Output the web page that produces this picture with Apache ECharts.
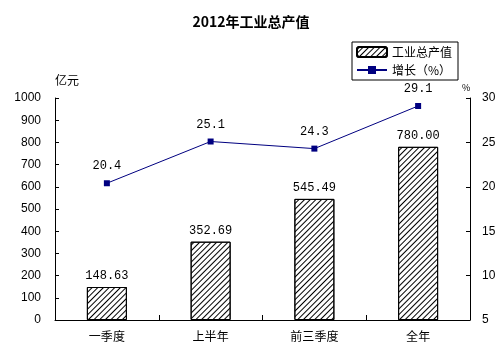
<!DOCTYPE html>
<html>
<head>
<meta charset="utf-8">
<script src="https://cdn.jsdelivr.net/npm/echarts@6/dist/echarts.min.js"></script>
<style>
  html, body { margin: 0; padding: 0; background: #fff; }
  #main { width: 502px; height: 354px; }
</style>
</head>
<body>
<div id="main"></div>
<script>
  // 数据
  var categories = ['一季度', '上半年', '前三季度', '全年'];
  var outputValues = [148.63, 352.69, 545.49, 780.00];
  var growthValues = [20.4, 25.1, 24.3, 29.1];

  var font = 'SimSun, "Noto Sans CJK SC", sans-serif';
  var monoFont = '"Liberation Mono", "DejaVu Sans Mono", monospace';
  var numFont = 'Arial, "Liberation Sans", sans-serif';

  var myChart = echarts.init(document.getElementById('main'));
  var option = {
    backgroundColor: '#fff',
    title: {
      text: '2012年工业总产值',
      left: 'center',
      top: 10,
      textStyle: { fontFamily: font, fontSize: 14, fontWeight: 'bold', color: '#000' }
    },
    legend: {
      orient: 'vertical',
      left: 352,
      top: 42,
      itemGap: 6,
      itemWidth: 30,
      itemHeight: 10,
      padding: [4, 6, 4, 4],
      borderColor: '#000',
      borderWidth: 1,
      textStyle: { fontFamily: font, fontSize: 12, color: '#000' },
      data: [
        { name: '工业总产值' },
        { name: '增长（%）' }
      ]
    },
    grid: {
      left: 55,
      right: 32,
      top: 98,
      bottom: 34
    },
    xAxis: {
      type: 'category',
      data: categories,
      axisLine: { lineStyle: { color: '#000', width: 1 } },
      axisTick: { show: true, inside: true, length: 5, lineStyle: { color: '#000' } },
      axisLabel: { fontFamily: font, fontSize: 12, color: '#000', margin: 10 }
    },
    yAxis: [
      {
        type: 'value',
        name: '亿元',
        nameLocation: 'end',
        nameGap: 12,
        nameTextStyle: { fontFamily: font, fontSize: 12, color: '#000', align: 'left' },
        min: 0,
        max: 1000,
        interval: 100,
        splitLine: { show: false },
        axisLine: { show: true, lineStyle: { color: '#000', width: 1 } },
        axisTick: { show: true, inside: true, length: 4, lineStyle: { color: '#000' } },
        axisLabel: {
          fontFamily: numFont, fontSize: 12, color: '#000', margin: 14,
          formatter: function (v) { return String(v); }
        }
      },
      {
        type: 'value',
        name: '%',
        nameGap: 6,
        nameTextStyle: { fontFamily: font, fontSize: 9, color: '#000', align: 'left', padding: [0, 0, 0, -8] },
        min: 5,
        max: 30,
        interval: 5,
        splitLine: { show: false },
        axisLine: { show: true, lineStyle: { color: '#000', width: 1 } },
        axisTick: { show: true, inside: true, length: 4, lineStyle: { color: '#000' } },
        axisLabel: { fontFamily: numFont, fontSize: 12, color: '#000', margin: 12 }
      }
    ],
    series: [
      {
        name: '工业总产值',
        type: 'bar',
        barWidth: 40,
        data: outputValues,
        itemStyle: {
          color: '#fff',
          borderColor: '#000',
          borderWidth: 1,
          decal: {
            symbol: 'rect',
            symbolSize: 1,
            dashArrayX: [1, 0],
            dashArrayY: [1, 3],
            rotation: -Math.PI / 4,
            color: '#000'
          }
        },
        label: {
          show: true,
          position: 'top',
          distance: 5,
          fontFamily: monoFont,
          fontSize: 12,
          color: '#000',
          formatter: function (p) { return p.value.toFixed(2); }
        }
      },
      {
        name: '增长（%）',
        type: 'line',
        yAxisIndex: 1,
        data: growthValues,
        symbol: 'rect',
        symbolSize: 6,
        lineStyle: { color: '#000080', width: 1 },
        itemStyle: { color: '#000080' },
        label: {
          show: true,
          position: 'top',
          distance: 8,
          fontFamily: monoFont,
          fontSize: 12,
          color: '#000',
          formatter: function (p) { return p.value.toFixed(1); }
        }
      }
    ]
  };
  myChart.setOption(option);
</script>
</body>
</html>
